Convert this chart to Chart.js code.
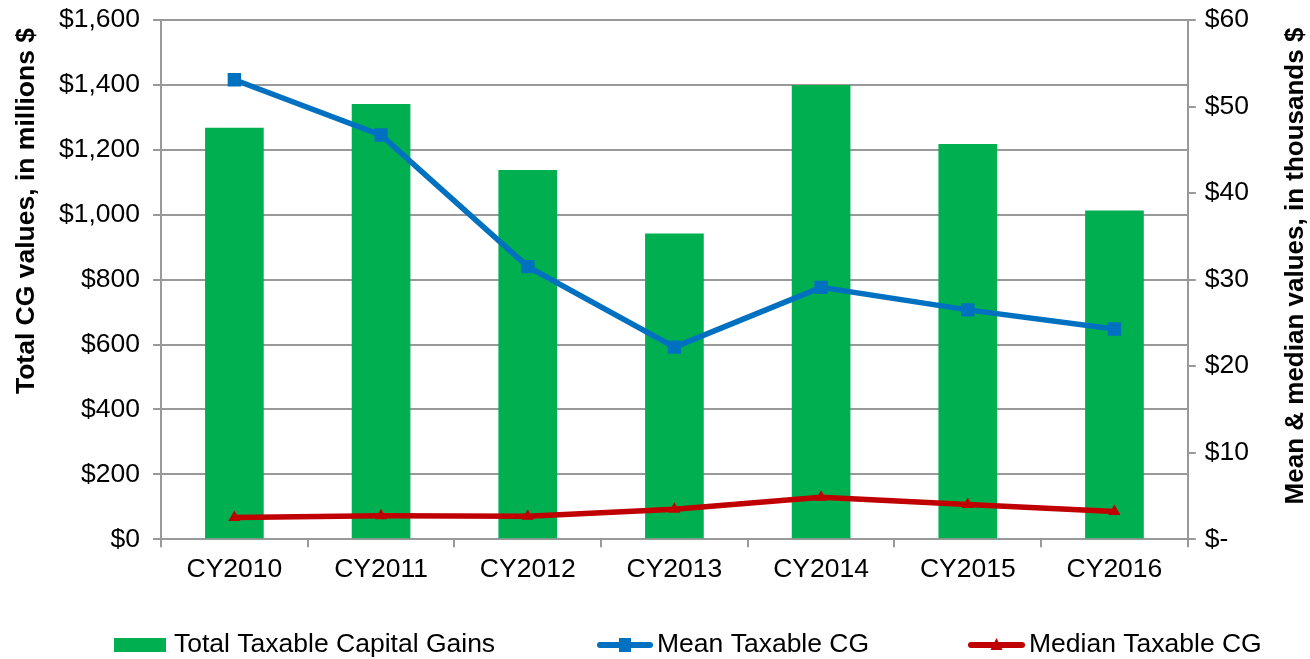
<!DOCTYPE html>
<html>
<head>
<meta charset="utf-8">
<script src="https://cdn.jsdelivr.net/npm/chart.js@4/dist/chart.umd.min.js"></script>
<style>
  html, body { margin: 0; padding: 0; background: #fff; }
  #wrap { width: 1310px; height: 659px; position: relative; }
</style>
</head>
<body>
<div id="wrap"><canvas id="cg"></canvas></div>
<script>
// Capital gains by calendar year: total (left axis, $M) + mean/median (right axis, $K)
const YEARS = ["CY2010","CY2011","CY2012","CY2013","CY2014","CY2015","CY2016"];
const TOTAL_CG = [1268, 1341, 1138, 942, 1400, 1218, 1013];
const MEAN_CG = [53.1, 46.7, 31.5, 22.2, 29.1, 26.5, 24.3];
const MEDIAN_CG = [2.5, 2.7, 2.65, 3.45, 4.85, 4.0, 3.2];

const GREEN = "#00b050", BLUE = "#0070c0", RED = "#c00000";
const GRID = "#999999";
const FONT = "'Liberation Sans', Arial, sans-serif";
const FS = 26.5;

// legend entries (excel puts them at fixed spots under the plot)
const LEGEND = [
  {label:"Total Taxable Capital Gains", kind:"bar",    x:114, w:52, tx:174},
  {label:"Mean Taxable CG",             kind:"mean",   x:597, w:56, tx:657},
  {label:"Median Taxable CG",           kind:"median", x:968, w:57, tx:1029},
];

function drawSwatch(ctx, it, y){
  if (it.kind === "bar"){
    ctx.fillStyle = GREEN;
    ctx.fillRect(it.x, y - 7, it.w, 14);
    return;
  }
  const col = it.kind === "mean" ? BLUE : RED;
  const cx = it.x + it.w / 2;
  ctx.strokeStyle = col; ctx.lineWidth = 6; ctx.lineCap = "round";
  ctx.beginPath(); ctx.moveTo(it.x + 3, y); ctx.lineTo(it.x + it.w - 3, y); ctx.stroke();
  ctx.fillStyle = col;
  if (it.kind === "mean") ctx.fillRect(cx - 6, y - 7, 12, 14);
  else { ctx.beginPath(); ctx.moveTo(cx, y - 7); ctx.lineTo(cx + 6, y + 5); ctx.lineTo(cx - 6, y + 5); ctx.closePath(); ctx.fill(); }
}

function vTitle(ctx, text, x, y){
  ctx.save();
  ctx.translate(x, y);
  ctx.rotate(-Math.PI / 2);
  ctx.fillText(text, 0, 0);
  ctx.restore();
}

const decorPlugin = {
  id: "excelDecor",
  afterDraw(chart){
    const ctx = chart.ctx;
    ctx.save();
    ctx.textBaseline = "middle";
    ctx.fillStyle = "#000";
    ctx.font = FS + "px " + FONT;
    const y = 645;
    for (const it of LEGEND){
      drawSwatch(ctx, it, y);
      ctx.fillStyle = "#000";
      ctx.textAlign = "left";
      ctx.fillText(it.label, it.tx, y);
    }
    // both axis titles read bottom-to-top
    ctx.font = "bold " + FS + "px " + FONT;
    ctx.textAlign = "center";
    vTitle(ctx, "Total CG values, in millions $", 27, 211);
    ctx.font = "bold 26px " + FONT;
    vTitle(ctx, "Mean & median values, in thousands $", 1296, 266);
    ctx.restore();
  }
};

// let the top tick label hang above the plot instead of pushing it down
const noTopPad = s => { s.paddingTop = 0; };

new Chart(document.getElementById("cg"), {
  type: "bar",
  data: {
    labels: YEARS,
    datasets: [
      {label:"Total Taxable Capital Gains", data: TOTAL_CG, backgroundColor: GREEN,
       barPercentage: 0.4, categoryPercentage: 1, yAxisID: "y", order: 3},
      {type:"line", label:"Mean Taxable CG", data: MEAN_CG, borderColor: BLUE, backgroundColor: BLUE,
       borderWidth: 5.5, pointStyle: "rect", pointRadius: 9.5, pointBorderWidth: 0, yAxisID: "y1", order: 1},
      {type:"line", label:"Median Taxable CG", data: MEDIAN_CG, borderColor: RED, backgroundColor: RED,
       borderWidth: 5.5, pointStyle: "triangle", pointRadius: 7, pointBorderWidth: 0, yAxisID: "y1", order: 2},
    ]
  },
  options: {
    responsive: true, maintainAspectRatio: false, animation: false,
    layout: {padding: {top: 20, right: 52, bottom: 66, left: 46}},
    plugins: {legend: {display: false}, tooltip: {enabled: false}},
    scales: {
      x: {
        offset: true,
        grid: {offset: true, drawOnChartArea: false, drawTicks: true, tickLength: 8, color: GRID, lineWidth: 2},
        border: {color: GRID, width: 2},
        ticks: {color: "#000", font: {family: FONT, size: FS}, padding: 7}
      },
      y: {
        position: "left", min: 0, max: 1600, afterFit: noTopPad,
        ticks: {stepSize: 200, color: "#000", font: {family: FONT, size: FS}, padding: 13,
                callback: v => "$" + v.toLocaleString("en-US")},
        grid: {color: GRID, lineWidth: 2, tickLength: 8},
        border: {color: GRID, width: 2}
      },
      y1: {
        position: "right", min: 0, max: 60, afterFit: noTopPad,
        ticks: {stepSize: 10, color: "#000", font: {family: FONT, size: FS}, padding: 9,
                callback: v => v === 0 ? "$-" : "$" + v},
        grid: {drawOnChartArea: false, color: GRID, lineWidth: 2, tickLength: 8},
        border: {color: GRID, width: 2}
      }
    }
  },
  plugins: [decorPlugin]
});
</script>
</body>
</html>
